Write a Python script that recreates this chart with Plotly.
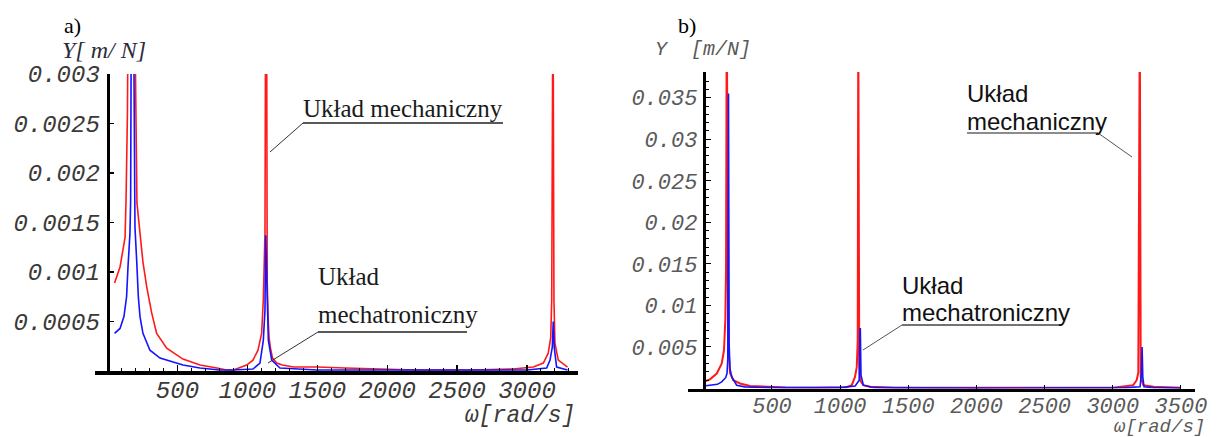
import plotly.graph_objects as go

# ---------------- data ----------------
# panel a)
a_w_red = [50, 89, 125, 132, 142, 150, 175, 198, 204, 210, 232, 253, 280, 315, 351, 423, 539, 661, 783, 850,
           900, 995, 1040, 1076, 1102, 1114, 1126, 1131, 1137, 1142, 1148, 1155, 1165, 1180, 1210, 1250, 1330, 1500,
           1700, 1900, 2200, 2600, 2900, 3045, 3117, 3152, 3170, 3177, 3181, 3186, 3193, 3200, 3224, 3290]
a_y_red = [0.00089, 0.00105, 0.00135, 0.00173, 0.0026, 0.0032, 0.0100, 0.0032, 0.0024, 0.0017, 0.00139, 0.0011,
           0.00085, 0.00059, 0.00038, 0.00023, 0.00012, 0.00006, 0.00003, 0.00001, 0.00001, 0.00006, 0.00011,
           0.00021, 0.00038, 0.00072, 0.0014, 0.0040, 0.0040, 0.00089, 0.00055, 0.00034, 0.00023, 0.00013,
           0.00008, 0.00006, 0.00004, 0.00004, 0.00003, 0.00002, 0.00001, 0.00001, 0.00002, 0.00004, 0.00008,
           0.00018, 0.00034, 0.00072, 0.0040, 0.0040, 0.00072, 0.00028, 0.00011, 0.00004]
a_w_blue = [50, 89, 117, 136, 146, 160, 165, 170, 180, 188, 196, 208, 220, 232, 253, 303, 375, 539, 661, 800,
            900, 1040, 1090, 1114, 1126, 1131, 1136, 1142, 1150, 1174, 1233, 1500, 2000, 2500, 3000, 3141, 3165,
            3181, 3188, 3195, 3212, 3290]
a_y_blue = [0.00038, 0.00043, 0.00055, 0.00075, 0.00105, 0.00139, 0.00173, 0.0032, 0.008, 0.0032, 0.00145,
            0.00112, 0.00075, 0.00055, 0.00038, 0.00021, 0.00013, 0.00006, 0.00003, 0.00001, 0.00001, 0.00002,
            0.00008, 0.00031, 0.00062, 0.00137, 0.00108, 0.0006, 0.00031, 0.00011, 0.00003, 0.00001, 0.00001,
            0.00001, 0.00001, 0.00003, 0.00011, 0.00024, 0.0005, 0.00024, 0.00004, 0.00001]
a_xticks = [500, 1000, 1500, 2000, 2500, 3000]
a_xtick_text = ["500", "1000", "1500", "2000", "2500", "3000"]
a_yticks = [0.0005, 0.001, 0.0015, 0.002, 0.0025, 0.003]
a_ytick_text = ["0.0005", "0.001", "0.0015", "0.002", "0.0025", "0.003"]

# panel b)
b_w_red = [0, 45, 95, 131, 148, 158, 163, 168, 173, 178, 185, 192, 216, 266, 339, 461, 600, 800, 1000, 1048,
           1085, 1109, 1122, 1129, 1133, 1137, 1140, 1146, 1170, 1219, 1400, 2000, 2600, 3000, 3150, 3175, 3187,
           3194, 3198, 3205, 3224, 3300, 3500]
b_y_red = [0.0008, 0.0011, 0.0018, 0.003, 0.0046, 0.0083, 0.0147, 0.045, 0.0305, 0.006, 0.0038, 0.0019, 0.001,
           0.0006, 0.0003, 0.0002, 0.00012, 0.0001, 0.00012, 0.00015, 0.0004, 0.0014, 0.0026, 0.0058, 0.045,
           0.0105, 0.003, 0.001, 0.0004, 0.0002, 0.0001, 0.00008, 0.00008, 0.0001, 0.0004, 0.001, 0.0019, 0.045,
           0.045, 0.0014, 0.0004, 0.0002, 0.0001]
b_w_blue = [0, 50, 100, 131, 160, 170, 176, 181, 186, 192, 205, 241, 300, 500, 1000, 1110, 1140, 1146, 1148,
            1153, 1170, 1250, 2000, 3100, 3200, 3210, 3215, 3220, 3229, 3300, 3500]
b_y_blue = [0.0003, 0.0004, 0.0005, 0.0008, 0.0013, 0.0018, 0.0035, 0.0355, 0.0052, 0.0024, 0.0014, 0.0004,
            0.0002, 0.0001, 0.0001, 0.0003, 0.001, 0.0072, 0.0072, 0.0016, 0.0004, 0.0001, 0.00005, 0.0001,
            0.0002, 0.0018, 0.005, 0.0014, 0.0002, 0.0001, 0.00005]
b_xticks = [500, 1000, 1500, 2000, 2500, 3000, 3500]
b_xtick_text = ["500", "1000", "1500", "2000", "2500", "3000", "3500"]
b_yticks = [0.005, 0.01, 0.015, 0.02, 0.025, 0.03, 0.035]
b_ytick_text = ["0.005", "0.01", "0.015", "0.02", "0.025", "0.03", "0.035"]

# ---------------- layout helpers ----------------
W, H = 1217, 437


def px(x):
    return x / W


def py(y):
    return 1 - y / H


RED = "#ff1a1a"
BLUE = "#1414ff"

fig = go.Figure()
fig.add_trace(go.Scatter(x=a_w_red, y=a_y_red, mode="lines", line=dict(color=RED, width=1.6),
                         xaxis="x", yaxis="y", hoverinfo="skip"))
fig.add_trace(go.Scatter(x=a_w_blue, y=a_y_blue, mode="lines", line=dict(color=BLUE, width=1.6),
                         xaxis="x", yaxis="y", hoverinfo="skip"))
fig.add_trace(go.Scatter(x=b_w_red, y=b_y_red, mode="lines", line=dict(color=RED, width=2),
                         xaxis="x2", yaxis="y2", hoverinfo="skip"))
fig.add_trace(go.Scatter(x=b_w_blue, y=b_y_blue, mode="lines", line=dict(color=BLUE, width=1.6),
                         xaxis="x2", yaxis="y2", hoverinfo="skip"))

A_TICK = dict(family="Liberation Mono", size=24, style="italic", color="#3c3a38")
B_TICK = dict(family="Liberation Mono", size=22, style="italic", color="#5a5a5a")

common = dict(showgrid=False, zeroline=False, showline=True, linecolor="black", linewidth=3.5,
              ticks="inside", tickcolor="black", tickmode="array", automargin=False)

fig.update_layout(
    template="none",
    width=W, height=H, autosize=False, margin=dict(l=0, r=0, t=0, b=0, pad=0, autoexpand=False),
    paper_bgcolor="white", plot_bgcolor="white", showlegend=False,
    xaxis=dict(domain=[px(95), px(578)], range=[-90, 3365], anchor="y",
               tickvals=a_xticks, ticktext=a_xtick_text, ticklen=6, tickwidth=1.2,
               tickfont=A_TICK, ticklabelstandoff=-5,
               minor=dict(dtick=100, ticks="inside", ticklen=3, tickwidth=1, tickcolor="black", showgrid=False),
               **common),
    yaxis=dict(domain=[py(371), py(74)], range=[0, 0.003], anchor="free", position=px(107.6),
               tickvals=a_yticks, ticktext=a_ytick_text, ticklen=4, tickwidth=1.2,
               tickfont=A_TICK, ticklabelstandoff=2, **common),
    xaxis2=dict(domain=[px(688), px(1195)], range=[-116, 3603], anchor="y2",
                tickvals=b_xticks, ticktext=b_xtick_text, ticklen=4, tickwidth=1,
                tickfont=B_TICK, ticklabelstandoff=-5, **common),
    yaxis2=dict(domain=[py(388.5), py(72)], range=[0, 0.0381], anchor="free", position=px(703.8),
                tickvals=b_yticks, ticktext=b_ytick_text, ticklen=5, tickwidth=1,
                tickfont=B_TICK, ticklabelstandoff=1,
                minor=dict(dtick=0.001, ticks="inside", ticklen=2.5, tickwidth=1, tickcolor="black",
                           showgrid=False),
                **common),
)

SERIF = "Liberation Serif"
SANS = "Liberation Sans"
MONO = "Liberation Mono"


def ann(text, x, y, family, size, color="black", style="normal"):
    return dict(text=text, x=px(x), y=py(y), xref="paper", yref="paper", xanchor="left", yanchor="middle",
                showarrow=False, font=dict(family=family, size=size, color=color, style=style))


annotations = [
    ann("a)", 62, 25, SERIF, 22),
    ann("Y[ m/ N]", 60, 50, SERIF, 24, "#2e2a3a", "italic"),
    ann("ω[rad/s]", 463, 416, MONO, 23, "#3c3a38", "italic"),
    ann("Układ mechaniczny", 301, 109, SERIF, 25, "#1a1a1a"),
    ann("Układ", 316, 276, SERIF, 25, "#1a1a1a"),
    ann("mechatroniczny", 316, 314, SERIF, 25, "#1a1a1a"),
    ann("b)", 676, 25, SERIF, 22),
    ann("Y  [m/N]", 653, 50, MONO, 20, "#5a5a5a", "italic"),
    ann("ω[rad/s]", 1112, 427, MONO, 19, "#5a5a5a", "italic"),
    ann("Układ", 965, 94, SANS, 24, "#111111"),
    ann("mechaniczny", 965, 121, SANS, 24, "#111111"),
    ann("Układ", 900, 285, SANS, 24, "#111111"),
    ann("mechatroniczny", 900, 312, SANS, 24, "#111111"),
]


def seg(x0, y0, x1, y1, color="#333333", width=1.2):
    return dict(type="line", xref="paper", yref="paper", x0=px(x0), y0=py(y0), x1=px(x1), y1=py(y1),
                line=dict(color=color, width=width))


shapes = [
    seg(303, 123, 503, 123, "#222222", 1.4), seg(303, 123, 270, 152, "#333333", 1.0),
    seg(318, 332, 467, 332, "#222222", 1.4), seg(318, 332, 268, 363, "#333333", 1.0),
    seg(967, 133, 1098, 133, "#666666", 1.4), seg(1098, 133, 1132, 157, "#555555", 1.0),
    seg(902, 325, 1060, 325, "#444444", 1.4), seg(902, 325, 863, 350, "#555555", 1.0),
]

fig.update_layout(annotations=annotations, shapes=shapes)
fig.write_html("out.html", config={"displayModeBar": False, "staticPlot": True},
               post_script="document.body.style.margin='0px';document.body.style.overflow='hidden';")
